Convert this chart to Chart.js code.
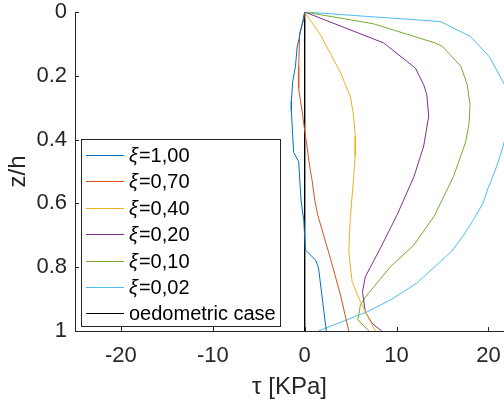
<!DOCTYPE html>
<html>
<head>
<meta charset="utf-8">
<script src="https://cdn.jsdelivr.net/npm/chart.js@4/dist/chart.umd.min.js"></script>
<style>
  html, body { margin: 0; padding: 0; background: #fff; overflow: hidden; }
  canvas { display: block; }
</style>
</head>
<body>
<canvas id="c" width="504" height="402"></canvas>
<script>
// ---- data (tau [KPa] vs z/h) ----
const seriesLabels = ['1,00', '0,70', '0,40', '0,20', '0,10', '0,02'];
const oedLabel = 'oedometric case';

const zXi100   = [0, 0.113, 0.17, 0.218, 0.28, 0.31, 0.44, 0.469, 0.589, 0.652, 0.746, 0.777, 0.80, 1.0];
const tauXi100 = [0, -0.83, -1.0, -1.3, -1.45, -1.45, -1.2, -0.65, -0.4, -0.1, 0.08, 1.17, 1.5, 2.36];

const zXi070   = [0, 0.024, 0.066, 0.17, 0.24, 0.275, 0.31, 0.36, 0.41, 0.494, 0.526, 0.589, 0.636, 0.772, 0.887, 1.0];
const tauXi070 = [0, -0.1, -0.54, -0.65, -0.65, -0.47, -0.28, -0.05, 0.2, 0.6, 0.8, 1.1, 1.42, 2.8, 3.9, 4.8];

const zXi040   = [0, 0.071, 0.19, 0.265, 0.32, 0.39, 0.45, 0.516, 0.641, 0.75, 0.845, 0.908, 0.96, 1.0];
const tauXi040 = [0, 1.71, 3.9, 4.98, 5.3, 5.52, 5.5, 5.34, 4.98, 4.8, 5.16, 6.07, 6.97, 7.7];

const zXi020   = [0, 0.097, 0.176, 0.228, 0.26, 0.327, 0.42, 0.516, 0.636, 0.74, 0.83, 0.877, 0.94, 0.976, 1.0];
const tauXi020 = [0, 8.6, 12.06, 12.96, 13.3, 13.5, 12.96, 11.9, 10.06, 8.25, 6.6, 6.3, 6.6, 7.34, 8.4];

const zXi010   = [0, 0.037, 0.097, 0.108, 0.17, 0.228, 0.29, 0.35, 0.41, 0.516, 0.64, 0.73, 0.80, 0.887, 0.918, 0.965, 1.0];
const tauXi010 = [0, 7.5, 14.2, 15.0, 17.0, 17.7, 18.0, 17.9, 17.5, 16.2, 14.1, 11.9, 9.3, 6.8, 6.07, 5.8, 7.0];

const zXi002   = [0, 0.03, 0.077, 0.14, 0.23, 0.32, 0.40, 0.45, 0.50, 0.55, 0.60, 0.65, 0.70, 0.75, 0.80, 0.85, 0.90, 0.94, 1.0];
const tauXi002 = [0, 14.8, 18.05, 20.1, 21.8, 22.5, 21.8, 21.3, 20.7, 20.0, 19.4, 18.4, 17.3, 16.0, 14.1, 12.2, 9.5, 6.8, 1.5];

const zOed   = [0, 1];
const tauOed = [0, 0];

const xTicks = [-20, -10, 0, 10, 20];
const yTicks = [0, 0.2, 0.4, 0.6, 0.8, 1];
const xTickLabels = ['-20', '-10', '0', '10', '20'];
const yTickLabels = ['0', '0.2', '0.4', '0.6', '0.8', '1'];

const colors = ['#0072BD', '#D95319', '#EDB120', '#7E2F8E', '#77AC30', '#4DBEEE', '#000000'];

const pairs = (taus, zs) => taus.map((t, i) => ({ x: t, y: zs[i] }));
const allSeries = [
  [tauXi100, zXi100], [tauXi070, zXi070], [tauXi040, zXi040],
  [tauXi020, zXi020], [tauXi010, zXi010], [tauXi002, zXi002], [tauOed, zOed]
];
const allLabels = seriesLabels.map(s => '\u03BE=' + s).concat([oedLabel]);

const datasets = allSeries.map((s, i) => ({
  label: allLabels[i],
  data: pairs(s[0], s[1]),
  borderColor: colors[i],
  backgroundColor: colors[i],
  borderWidth: 1,
  pointRadius: 0,
  showLine: true,
  tension: 0,
  fill: false
}));

const AX = '#262626';
const FONT = 'Liberation Sans, Arial, sans-serif';
const LEG_SIZE = 20;

const overlay = {
  id: 'overlay',
  afterDraw(chart) {
    const ctx = chart.ctx;
    const xs = chart.scales.x, ys = chart.scales.y;
    ctx.save();
    // inward tick marks
    ctx.strokeStyle = AX; ctx.lineWidth = 1;
    ctx.beginPath();
    xTicks.forEach(v => {
      const px = Math.round(xs.getPixelForValue(v)) + 0.5;
      ctx.moveTo(px, ys.bottom); ctx.lineTo(px, ys.bottom - 4);
    });
    yTicks.forEach(v => {
      const py = Math.round(ys.getPixelForValue(v)) + 0.5;
      ctx.moveTo(xs.left, py); ctx.lineTo(xs.left + 4, py);
    });
    ctx.stroke();

    // legend
    const bx = 81.5, by = 139.5, bw = 199, bh = 187;
    ctx.fillStyle = '#ffffff';
    ctx.fillRect(bx, by, bw, bh);
    ctx.strokeStyle = AX; ctx.lineWidth = 1;
    ctx.strokeRect(bx, by, bw, bh);
    const rowY0 = 155, rowH = 26.4;
    ctx.textBaseline = 'middle';
    chart.data.datasets.forEach((ds, i) => {
      const y = Math.round(rowY0 + i * rowH) + 0.5;
      ctx.strokeStyle = ds.borderColor; ctx.lineWidth = 1;
      ctx.beginPath(); ctx.moveTo(86, y); ctx.lineTo(124, y); ctx.stroke();
      ctx.fillStyle = '#000';
      let tx = 129;
      if (ds.label.startsWith('\u03BE')) {
        ctx.font = 'italic ' + LEG_SIZE + 'px ' + FONT;
        ctx.fillText('\u03BE', tx, y + 1);
        tx += ctx.measureText('\u03BE').width + 1;
        ctx.font = LEG_SIZE + 'px ' + FONT;
        ctx.fillText(ds.label.slice(1), tx, y + 1);
      } else {
        ctx.font = LEG_SIZE + 'px ' + FONT;
        ctx.fillText(ds.label, tx, y + 1);
      }
    });
    ctx.restore();
  }
};

new Chart(document.getElementById('c'), {
  type: 'scatter',
  data: { datasets },
  options: {
    responsive: false,
    animation: false,
    layout: { padding: { top: 12, right: 0, left: 0, bottom: 0 } },
    plugins: { legend: { display: false }, tooltip: { enabled: false } },
    scales: {
      x: {
        type: 'linear', min: -25, max: 21.7,
        afterBuildTicks: s => { s.ticks = xTicks.map(v => ({ value: v })); },
        afterFit: s => { s.height = 71; s.paddingLeft = 0; s.paddingRight = 0; },
        grid: { display: false, drawTicks: false },
        border: { display: true, color: AX, width: 1 },
        ticks: {
          color: AX, padding: 12,
          font: { family: FONT, size: 22 },
          callback: (v) => xTickLabels[xTicks.indexOf(v)]
        },
        title: {
          display: true, text: '\u03C4 [KPa]', color: AX,
          font: { family: FONT, size: 24 }, padding: { top: 0, bottom: 0 }
        }
      },
      y: {
        type: 'linear', min: 0, max: 1, reverse: true,
        afterBuildTicks: s => { s.ticks = yTicks.map(v => ({ value: v })); },
        afterFit: s => { s.width = 75; s.paddingTop = 0; s.paddingBottom = 0; },
        grid: { display: false, drawTicks: false },
        border: { display: true, color: AX, width: 1 },
        ticks: {
          color: AX, padding: 8,
          font: { family: FONT, size: 22 },
          callback: (v) => yTickLabels[yTicks.indexOf(v)]
        },
        title: {
          display: true, text: 'z/h', color: AX,
          font: { family: FONT, size: 24 }, padding: { top: 4, bottom: 0 }
        }
      }
    }
  },
  plugins: [overlay]
});
</script>
</body>
</html>
